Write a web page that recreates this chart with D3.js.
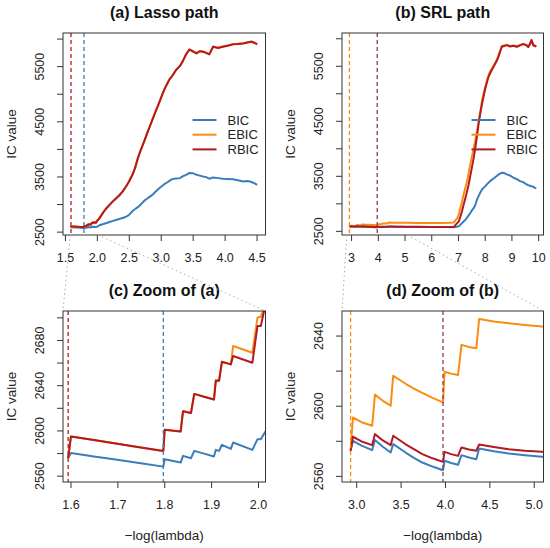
<!DOCTYPE html>
<html>
<head>
<meta charset="utf-8">
<script src="https://cdn.jsdelivr.net/npm/d3@7"></script>
<style>
  body { margin: 0; background: #fff; }
  svg { display: block; font-family: "Liberation Sans", Arial, Helvetica, sans-serif; }
</style>
</head>
<body>
<div id="chart"></div>
<script>
// ---- data ----
const seriesNames = ['BIC', 'EBIC', 'RBIC'];

const lassoX = [1.595, 1.601, 1.65, 1.70, 1.75, 1.798, 1.801, 1.835, 1.840, 1.857, 1.864, 1.885, 1.906, 1.910,
  1.917, 1.923, 1.942, 1.947, 1.988, 1.999, 2.006, 2.013, 2.04, 2.09, 2.14, 2.2, 2.24, 2.3, 2.35, 2.4, 2.45,
  2.5, 2.56, 2.6, 2.635, 2.67, 2.713, 2.75, 2.79, 2.83, 2.87, 2.91, 2.95, 2.99, 3.03, 3.07, 3.11, 3.14, 3.18,
  3.24, 3.30, 3.35, 3.40, 3.45, 3.50, 3.56, 3.61, 3.66, 3.71, 3.76, 3.82, 3.9, 3.97, 4.05, 4.13, 4.21, 4.29,
  4.36, 4.42, 4.47, 4.51];
const lassoBIC = [2575.5, 2580, 2577, 2574, 2571, 2568, 2574.5, 2571.6, 2577.5, 2575.4, 2581.9, 2579.5, 2576.9,
  2582.8, 2581.9, 2587.3, 2583.7, 2589.3, 2582.8, 2592.3, 2592.3, 2597, 2615, 2635, 2652, 2675, 2690, 2712,
  2730, 2748, 2765, 2800, 2875, 2910, 2940, 2970, 3025, 3068, 3100, 3135, 3167, 3215, 3260, 3300, 3335, 3372,
  3400, 3425, 3452, 3462, 3470, 3505, 3530, 3565, 3560, 3530, 3515, 3500, 3488, 3460, 3480, 3470, 3458, 3455,
  3451, 3430, 3409, 3418, 3400, 3375, 3349];
const lassoEBIC = [2575.5, 2594.7, 2591.5, 2588.3, 2585, 2581.9, 2600.6, 2599.1, 2616.9, 2615.4, 2632.3, 2629.8,
  2627.3, 2644.1, 2644, 2660.7, 2658.4, 2674.7, 2668.7, 2699.9, 2700.5, 2708, 2745, 2835, 2915, 2990, 3040,
  3105, 3160, 3225, 3310, 3405, 3540, 3665, 3810, 3930, 4060, 4170, 4295, 4415, 4535, 4655, 4765, 4885, 5005,
  5115, 5205, 5270, 5325, 5435, 5505, 5605, 5725, 5805, 5775, 5736, 5775, 5765, 5745, 5718, 5856, 5835, 5856,
  5875, 5900, 5905, 5917, 5935, 5947, 5925, 5900];
const lassoRBIC = [2575.5, 2594.7, 2591.5, 2588.3, 2585, 2581.9, 2600.6, 2599.1, 2616.9, 2615.4, 2632.3, 2629.8,
  2627.3, 2644.1, 2644, 2660.7, 2658.4, 2665.8, 2659.9, 2692.4, 2692.4, 2705.8, 2740, 2830, 2910, 2985, 3035,
  3100, 3155, 3220, 3305, 3400, 3535, 3660, 3805, 3925, 4055, 4165, 4290, 4410, 4530, 4650, 4760, 4880, 5000,
  5110, 5200, 5265, 5320, 5430, 5500, 5600, 5720, 5800, 5770, 5731, 5770, 5760, 5740, 5713, 5851, 5830, 5851,
  5870, 5895, 5900, 5912, 5930, 5942, 5920, 5895];

const srlX = [2.937, 2.963, 3.06, 3.18, 3.211, 3.30, 3.388, 3.417, 3.557, 3.65, 3.745, 3.86, 3.978, 3.995, 4.07,
  4.147, 4.186, 4.27, 4.353, 4.385, 4.55, 4.718, 4.9, 5.094, 5.5, 6.0, 6.5, 6.84, 6.97, 7.03, 7.09, 7.15, 7.21,
  7.28, 7.34, 7.40, 7.46, 7.52, 7.59, 7.65, 7.71, 7.77, 7.83, 7.90, 7.96, 8.02, 8.08, 8.14, 8.2, 8.33, 8.45,
  8.51, 8.58, 8.64, 8.73, 8.83, 8.95, 9.08, 9.2, 9.32, 9.44, 9.57, 9.63, 9.69, 9.75, 9.82, 9.88, 9.93];
const srlBIC = [2574.3, 2580, 2577.2, 2574.7, 2580.4, 2576.6, 2573.3, 2578.1, 2573.3, 2570.3, 2567.6, 2565.3,
  2563.2, 2568.6, 2567.3, 2566.3, 2571.8, 2570.5, 2569.5, 2575.6, 2574, 2572.8, 2571.8, 2570.9, 2569.5, 2568.5,
  2567.5, 2567, 2575, 2585, 2610, 2640, 2670, 2701, 2740, 2780, 2823, 2870, 2916, 2970, 3068, 3130, 3190, 3250,
  3285, 3312, 3345, 3375, 3403, 3450, 3495, 3520, 3540, 3556, 3550, 3526, 3505, 3465, 3440, 3403, 3385, 3342,
  3330, 3320, 3310, 3300, 3282, 3270];
const srlEBIC = [2574.3, 2593.3, 2590.6, 2588.6, 2606.3, 2602.8, 2600, 2617.1, 2612.5, 2609.8, 2607.3, 2604.5,
  2601.9, 2619.4, 2618.3, 2617.5, 2634.7, 2633.5, 2632.7, 2649.5, 2648, 2647, 2646, 2645.1, 2644, 2643.5, 2643,
  2650, 2732, 2800, 2916, 3030, 3159, 3290, 3403, 3550, 3709, 3850, 4000, 4150, 4300, 4500, 4650, 4870, 5000,
  5120, 5230, 5320, 5400, 5500, 5600, 5680, 5780, 5860, 5870, 5880, 5860, 5870, 5850, 5880, 5900, 5880, 5845,
  5900, 5970, 5880, 5870, 5850];
const srlRBIC = [2574.3, 2582.3, 2579.6, 2577.5, 2583.8, 2580.2, 2577.5, 2582.9, 2578, 2575.2, 2572.4, 2570,
  2568, 2573.7, 2572.4, 2571.4, 2576.2, 2575, 2574.3, 2577.9, 2576.5, 2575.2, 2574.3, 2573.7, 2572.5, 2571.5,
  2570.5, 2570, 2640, 2670, 2760, 2854, 2975, 3099, 3220, 3342, 3500, 3648, 3830, 4014, 4220, 4441, 4620, 4808,
  4950, 5082, 5190, 5297, 5360, 5480, 5590, 5663, 5760, 5846, 5860, 5876, 5850, 5865, 5846, 5870, 5894, 5870,
  5840, 5890, 5967, 5870, 5860, 5846];

// selected lambdas (dashed lines); where two criteria agree the dash shows both colours mixed
const lassoSelected = [{ x: 1.595, who: ['RBIC'] }, { x: 1.798, who: ['BIC'] }];
const srlSelected = [{ x: 2.937, who: ['EBIC'] }, { x: 3.978, who: ['BIC', 'RBIC'] }];

// ticks
const pathTicksY = [2500, 3000, 3500, 4000, 4500, 5000, 5500, 6000];
const pathLabelsY = [2500, 3500, 4500, 5500];
const lassoTicksX = [1.5, 2.0, 2.5, 3.0, 3.5, 4.0, 4.5];
const srlTicksX = [3, 4, 5, 6, 7, 8, 9, 10];
const zoomATicksX = [1.6, 1.7, 1.8, 1.9, 2.0];
const zoomATicksY = [2560, 2580, 2600, 2620, 2640, 2660, 2680, 2700];
const zoomALabelsY = [2560, 2600, 2640, 2680];
const zoomBTicksX = [3.0, 3.5, 4.0, 4.5, 5.0];
const zoomBTicksY = [2560, 2580, 2600, 2620, 2640];
const zoomBLabelsY = [2560, 2600, 2640];

const colors = { BIC: '#3b7dbc', EBIC: '#fa8c0f', RBIC: '#b3191f' };

// ---- layout ----
const W = 550, H = 548;
const svg = d3.select('#chart').append('svg')
  .attr('width', W).attr('height', H).attr('viewBox', `0 0 ${W} ${H}`);

const lasso = { xs: lassoX, BIC: lassoBIC, EBIC: lassoEBIC, RBIC: lassoRBIC, selected: lassoSelected };
const srl = { xs: srlX, BIC: srlBIC, EBIC: srlEBIC, RBIC: srlRBIC, selected: srlSelected };

const panels = [
  { id: 'a', title: '(a) Lasso path', data: lasso, left: 63, right: 265.5, top: 33, bottom: 235,
    xDomain: [1.47, 4.64], yDomain: [2439, 6101], xTicks: lassoTicksX, xFmt: d3.format('.1f'),
    yTicks: pathTicksY, yLabels: pathLabelsY, legend: true },
  { id: 'b', title: '(b) SRL path', data: srl, left: 342, right: 543.5, top: 33, bottom: 235,
    xDomain: [2.66, 10.2], yDomain: [2424, 6096], xTicks: srlTicksX, xFmt: d3.format('d'),
    yTicks: pathTicksY, yLabels: pathLabelsY, legend: true },
  { id: 'c', title: '(c) Zoom of (a)', data: lasso, left: 63, right: 265.5, top: 311, bottom: 482,
    xDomain: [1.584, 2.016], yDomain: [2554.4, 2705.6], xTicks: zoomATicksX, xFmt: d3.format('.1f'),
    yTicks: zoomATicksY, yLabels: zoomALabelsY, xLabel: true },
  { id: 'd', title: '(d) Zoom of (b)', data: srl, left: 342, right: 543.5, top: 311, bottom: 482,
    xDomain: [2.84, 5.11], yDomain: [2556.5, 2654], xTicks: zoomBTicksX, xFmt: d3.format('.1f'),
    yTicks: zoomBTicksY, yLabels: zoomBLabelsY, xLabel: true },
];

const scales = {};

function dashColor(who) {
  if (who.length === 1) return colors[who[0]];
  return d3.interpolateRgb(colors[who[0]], colors[who[1]])(0.7);
}

function drawPanel(p) {
  const x = d3.scaleLinear().domain(p.xDomain).range([p.left, p.right]);
  const y = d3.scaleLinear().domain(p.yDomain).range([p.bottom, p.top]);
  scales[p.id] = { x, y };
  const cx = (p.left + p.right) / 2;
  const cy = (p.top + p.bottom) / 2;

  const clipId = `clip-${p.id}`;
  svg.append('clipPath').attr('id', clipId)
    .append('rect')
    .attr('x', p.left).attr('y', p.top)
    .attr('width', p.right - p.left).attr('height', p.bottom - p.top);

  const g = svg.append('g').attr('class', `panel-${p.id}`);
  const plot = g.append('g').attr('clip-path', `url(#${clipId})`);

  const xs = p.data.xs;
  const line = d3.line().x((d, i) => x(xs[i])).y(d => y(d));
  seriesNames.forEach(name => {
    plot.append('path')
      .datum(p.data[name])
      .attr('d', line)
      .attr('fill', 'none')
      .attr('stroke', colors[name])
      .attr('stroke-width', 2)
      .attr('stroke-linejoin', 'round');
  });

  // dashed lines at the selected lambda
  p.data.selected.forEach(s => {
    plot.append('line')
      .attr('x1', x(s.x)).attr('x2', x(s.x))
      .attr('y1', p.top).attr('y2', p.bottom)
      .attr('stroke', dashColor(s.who))
      .attr('stroke-width', 1.3)
      .attr('stroke-dasharray', '4,3');
  });

  // frame
  g.append('rect')
    .attr('x', p.left).attr('y', p.top)
    .attr('width', p.right - p.left).attr('height', p.bottom - p.top)
    .attr('fill', 'none').attr('stroke', '#333').attr('stroke-width', 1);

  // x axis
  const gx = g.append('g')
    .attr('transform', `translate(0,${p.bottom})`)
    .call(d3.axisBottom(x).tickValues(p.xTicks).tickSize(6).tickFormat(p.xFmt));
  gx.select('.domain').remove();
  gx.selectAll('.tick line').attr('stroke', '#333');
  gx.selectAll('.tick text')
    .attr('y', 27).attr('dy', null)
    .attr('fill', '#222').attr('font-size', 12.5);

  // y axis, labels rotated like base R
  const gy = g.append('g')
    .attr('transform', `translate(${p.left},0)`)
    .call(d3.axisLeft(y).tickValues(p.yTicks).tickSize(6)
      .tickFormat(d => (p.yLabels.includes(d) ? d3.format('d')(d) : '')));
  gy.select('.domain').remove();
  gy.selectAll('.tick line').attr('stroke', '#333');
  gy.selectAll('.tick text')
    .attr('x', 0).attr('y', -19).attr('dy', null)
    .attr('transform', 'rotate(-90)')
    .attr('text-anchor', 'middle')
    .attr('fill', '#222').attr('font-size', 12.5);

  g.selectAll('.tick text').attr('font-family', null);

  // title
  g.append('text')
    .attr('x', cx).attr('y', p.top - 15)
    .attr('text-anchor', 'middle')
    .attr('font-size', 16).attr('font-weight', 'bold').attr('fill', '#111')
    .text(p.title);

  // axis titles
  g.append('text')
    .attr('transform', `translate(${p.left - 47.5},${cy}) rotate(-90)`)
    .attr('text-anchor', 'middle')
    .attr('font-size', 13.5).attr('fill', '#222')
    .text('IC value');

  if (p.xLabel) {
    g.append('text')
      .attr('x', cx).attr('y', p.bottom + 58)
      .attr('text-anchor', 'middle')
      .attr('font-size', 13.5).attr('fill', '#222')
      .text('\u2212log(lambda)');
  }

  if (p.legend) {
    const lg = g.append('g').attr('transform', `translate(${p.left + 129.5},120)`);
    seriesNames.forEach((name, i) => {
      const row = lg.append('g').attr('transform', `translate(0,${i * 14.7})`);
      row.append('line')
        .attr('x1', 0).attr('x2', 24)
        .attr('stroke', colors[name]).attr('stroke-width', 2);
      row.append('text')
        .attr('x', 35).attr('y', 4.5)
        .attr('font-size', 13).attr('fill', '#222')
        .text(name);
    });
  }
}

panels.forEach(drawPanel);

// dotted guides from each path panel to its zoom panel
function guide(from, to) {
  const src = panels.find(p => p.id === from);
  const dst = panels.find(p => p.id === to);
  const sx = scales[from].x;
  const pairs = [[dst.xDomain[0], dst.left], [dst.xDomain[1], dst.right]];
  pairs.forEach(([xv, px]) => {
    svg.append('line')
      .attr('x1', sx(xv)).attr('y1', src.bottom)
      .attr('x2', px).attr('y2', dst.top)
      .attr('stroke', '#aaa').attr('stroke-width', 1)
      .attr('stroke-dasharray', '1.5,3');
  });
}
guide('a', 'c');
guide('b', 'd');
</script>
</body>
</html>
